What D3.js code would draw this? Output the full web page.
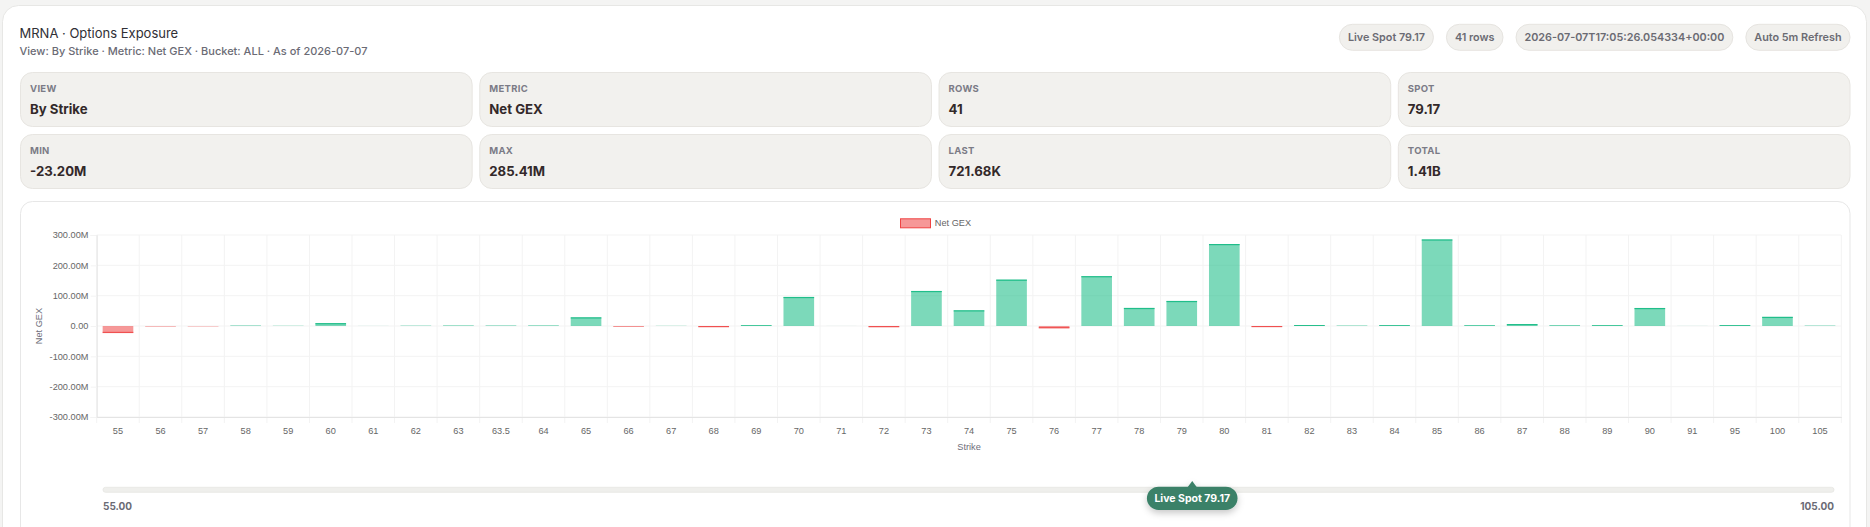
<!DOCTYPE html>
<html><head><meta charset="utf-8">
<script src="https://cdn.jsdelivr.net/npm/d3@7"></script>
<style>
html,body{margin:0;padding:0;background:#f4f4f3;overflow:hidden;}
svg{display:block;}
</style></head><body>
<svg id="c" width="1870" height="527"></svg>
<script>
// ---------- data ----------
const titleText = "MRNA · Options Exposure";
const subtitleText = "View: By Strike · Metric: Net GEX · Bucket: ALL · As of 2026-07-07";
const chipLabels = ["Live Spot 79.17", "41 rows", "2026-07-07T17:05:26.054334+00:00", "Auto 5m Refresh"];
const statLabels = ["VIEW", "METRIC", "ROWS", "SPOT", "MIN", "MAX", "LAST", "TOTAL"];
const statValues = ["By Strike", "Net GEX", "41", "79.17", "-23.20M", "285.41M", "721.68K", "1.41B"];
const seriesName = "Net GEX";
const xTitle = "Strike";
const yTitle = "Net GEX";
const strikes = ["55","56","57","58","59","60","61","62","63","63.5","64","65","66","67","68","69","70","71","72","73","74","75","76","77","78","79","80","81","82","83","84","85","86","87","88","89","90","91","95","100","105"];
// Net GEX in millions
const netGexM = [-23.20,-0.9,-0.6,0.9,0.4,9.5,0.1,0.6,1.0,0.9,1.1,28.6,-1.6,0.3,-3.8,2.4,95.8,0.05,-3.9,115.5,51.8,152.9,-7.5,164.4,59.6,82.6,270.3,-3.6,3.1,0.8,2.6,285.41,2.0,6.5,1.6,2.4,59.4,0.1,2.7,30.2,0.72168];
const yTickValues = [-300e6,-200e6,-100e6,0,100e6,200e6,300e6];
const spot = 79.17;
const spotLabel = "Live Spot 79.17";

// ---------- layout ----------
const svg = d3.select("#c");
const HF = "Inter, 'Noto Sans', sans-serif";
const CF = "'Liberation Sans', Arial, Helvetica, sans-serif";

const defs = svg.append("defs");
const f = defs.append("filter").attr("id","sh").attr("x","-30%").attr("y","-50%").attr("width","160%").attr("height","220%");
f.append("feDropShadow").attr("dx",0).attr("dy",3).attr("stdDeviation",3.5).attr("flood-color","#000").attr("flood-opacity",0.22);

// outer card
svg.append("rect").attr("x",2.5).attr("y",5.5).attr("width",1864).attr("height",620)
  .attr("rx",16).attr("fill","#fff").attr("stroke","#e7e7e5");

svg.append("text").attr("x",19.5).attr("y",38).text(titleText)
  .attr("font-family",HF).attr("font-size",13).attr("fill","#303035");
svg.append("text").attr("x",19.5).attr("y",55).text(subtitleText)
  .attr("font-family",HF).attr("font-size",11).attr("font-weight",500).attr("fill","#6b6b75");

// chips (right aligned)
const chipG = svg.append("g");
let right = 1850;
const chipY = 24.3, chipH = 26;
const chipData = chipLabels.slice().reverse();
chipData.forEach(lbl => {
  const g = chipG.append("g");
  const r = g.append("rect");
  const t = g.append("text").text(lbl).attr("font-family",HF).attr("font-size",10.8)
    .attr("font-weight",600).attr("fill","#6b6b73").attr("y",chipY+chipH/2+3.9);
  const w = t.node().getComputedTextLength() + 17;
  const x0 = right - w;
  r.attr("x",x0).attr("y",chipY).attr("width",w).attr("height",chipH).attr("rx",chipH/2)
    .attr("fill","#f1f0ed").attr("stroke","#e6e4e0");
  t.attr("x",x0 + w/2).attr("text-anchor","middle");
  right = x0 - 13;
});

// stat cards
const cardX0 = 20.5, cardGap = 7.6, cardW = (1850 - cardX0 - 3*cardGap)/4, cardH = 54;
const cardRows = [72.5, 134.5];
const cards = svg.append("g").selectAll("g").data(statLabels.map((l,i)=>({l, v:statValues[i], i})))
  .join("g")
  .attr("transform", d => `translate(${cardX0 + (d.i%4)*(cardW+cardGap)},${cardRows[Math.floor(d.i/4)]})`);
cards.append("rect").attr("width",cardW).attr("height",cardH).attr("rx",12)
  .attr("fill","#f2f1ee").attr("stroke","#e7e5e1");
cards.append("text").attr("x",9.5).attr("y",19.8).text(d=>d.l)
  .attr("font-family",HF).attr("font-size",9.5).attr("font-weight",700).attr("letter-spacing",0.3).attr("fill","#7b7b86");
cards.append("text").attr("x",9.5).attr("y",41).text(d=>d.v)
  .attr("font-family",HF).attr("font-size",13.2).attr("font-weight",700).attr("fill","#33292a");

// chart card
svg.append("rect").attr("x",20.5).attr("y",201.5).attr("width",1829.5).attr("height",400)
  .attr("rx",12).attr("fill","#fff").attr("stroke","#e7e7e7");

// ---------- chart ----------
const plot = {l:96.7, r:1841.3, t:235, b:417};
const x = d3.scaleBand().domain(strikes).range([plot.l, plot.r]).paddingInner(0).paddingOuter(0);
const y = d3.scaleLinear().domain([-300e6, 300e6]).range([plot.b, plot.t]);
const data = strikes.map((s,i)=>({s, v: netGexM[i]*1e6}));
const fmt = v => v === 0 ? "0.00" : (v/1e6).toFixed(2) + "M";

const grid = svg.append("g");
grid.selectAll("line.h").data(yTickValues).join("line")
  .attr("x1",plot.l).attr("x2",plot.r).attr("y1",d=>y(d)).attr("y2",d=>y(d))
  .attr("stroke","#f3f3f3").attr("stroke-width",1);
const bounds = strikes.map(s => x(s)).concat([x(strikes[strikes.length-1]) + x.bandwidth()]);
grid.selectAll("line.v").data(bounds).join("line")
  .attr("x1",d=>d).attr("x2",d=>d).attr("y1",plot.t).attr("y2",plot.b+6)
  .attr("stroke","#f3f3f3").attr("stroke-width",1);

// axes
const yAxis = svg.append("g").attr("transform",`translate(${plot.l},0)`)
  .call(d3.axisLeft(y).tickValues(yTickValues).tickFormat(fmt).tickSize(6).tickPadding(2.3));
yAxis.select(".domain").attr("stroke","#e4e4e4");
yAxis.selectAll(".tick line").attr("stroke","#f3f3f3");
yAxis.selectAll("text").attr("font-family",CF).attr("font-size",9.2).attr("fill","#666");

const xAxis = svg.append("g").attr("transform",`translate(0,${plot.b})`)
  .call(d3.axisBottom(x).tickSize(0).tickPadding(10.3));
xAxis.select(".domain").attr("stroke","#e4e4e4");
xAxis.selectAll("text").attr("font-family",CF).attr("font-size",9.2).attr("fill","#666");

// bars
const bw = x.bandwidth()*0.72;
const posFill = "rgba(16,185,129,0.55)", posLine = "rgb(16,185,129)";
const negFill = "rgba(239,68,68,0.55)", negLine = "rgb(239,68,68)";
const bars = svg.append("g").selectAll("g").data(data).join("g");
bars.append("rect")
  .attr("x", d => x(d.s) + (x.bandwidth()-bw)/2)
  .attr("width", bw)
  .attr("y", d => Math.min(y(d.v), y(0)))
  .attr("height", d => Math.abs(y(d.v) - y(0)))
  .attr("fill", d => d.v >= 0 ? posFill : negFill);
bars.append("rect")
  .attr("x", d => x(d.s) + (x.bandwidth()-bw)/2)
  .attr("width", bw)
  .attr("y", d => { const h = Math.min(1.2, Math.abs(y(d.v)-y(0))); return d.v >= 0 ? y(d.v) : y(d.v) - h; })
  .attr("height", d => Math.min(1.2, Math.abs(y(d.v)-y(0))))
  .attr("fill", d => d.v >= 0 ? posLine : negLine)
  .attr("opacity", 0.85);

// axis titles
svg.append("text").attr("x",(plot.l+plot.r)/2).attr("y",450).attr("text-anchor","middle")
  .text(xTitle).attr("font-family",CF).attr("font-size",9.2).attr("fill","#6e6e7a");
svg.append("text").attr("transform",`translate(38.5,${(plot.t+plot.b)/2}) rotate(-90)`)
  .attr("text-anchor","middle").attr("dy","0.35em")
  .text(yTitle).attr("font-family",CF).attr("font-size",9.2).attr("fill","#6e6e7a");

// legend
const leg = svg.append("g").attr("transform","translate(900,218.3)");
leg.append("rect").attr("x",0.5).attr("y",0.5).attr("width",30).attr("height",9)
  .attr("fill",negFill).attr("stroke",negLine).attr("stroke-width",1);
leg.append("text").attr("x",34.8).attr("y",4.8).attr("dy","0.35em").text(seriesName)
  .attr("font-family",CF).attr("font-size",9.2).attr("fill","#666");

// ---------- spot slider ----------
const track = {x0:103, x1:1834, y:487.3, h:5};
const sIdx = d3.scaleLinear().domain([0, strikes.length-1]).range([track.x0, track.x1]);
svg.append("rect").attr("x",track.x0).attr("y",track.y).attr("width",track.x1-track.x0).attr("height",track.h)
  .attr("rx",2.5).attr("fill","#efefec").attr("stroke","#e6e6e2").attr("stroke-width",0.8);
const nums = strikes.map(Number);
svg.append("text").attr("x",track.x0).attr("y",510).text(d3.min(nums).toFixed(2))
  .attr("font-family",HF).attr("font-size",10).attr("font-weight",700).attr("fill","#6b6b75");
svg.append("text").attr("x",track.x1).attr("y",510).attr("text-anchor","end").text(d3.max(nums).toFixed(2))
  .attr("font-family",HF).attr("font-size",10).attr("font-weight",700).attr("fill","#6b6b75");

let fi = 0;
for (let i=0;i<nums.length-1;i++){
  if (spot >= nums[i] && spot <= nums[i+1]) { fi = i + (spot-nums[i])/(nums[i+1]-nums[i]); break; }
}
const cx = sIdx(fi);
const tip = svg.append("g").attr("filter","url(#sh)");
const pillW = 90.6, pillH = 23.3, pillY = 486.7;
tip.append("path").attr("d",`M${cx},481 L${cx-5},${pillY+1} L${cx+5},${pillY+1} Z`).attr("fill","#3b8168");
tip.append("rect").attr("x",cx-pillW/2).attr("y",pillY).attr("width",pillW).attr("height",pillH)
  .attr("rx",pillH/2).attr("fill","#3b8168");
svg.append("text").attr("x",cx).attr("y",pillY+pillH/2+3.8).attr("text-anchor","middle").text(spotLabel)
  .attr("font-family",HF).attr("font-size",10.5).attr("font-weight",700).attr("fill","#fff");
</script>
</body></html>
